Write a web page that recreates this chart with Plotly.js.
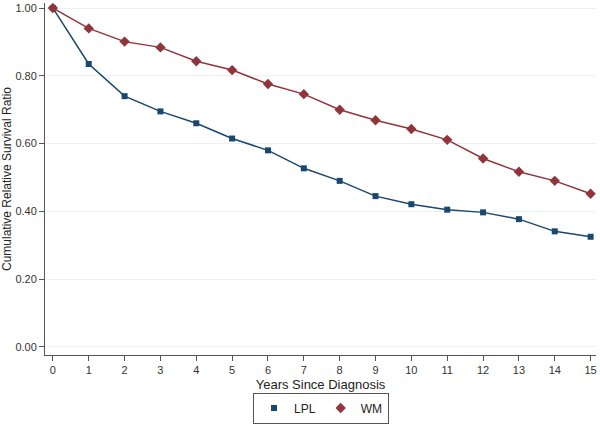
<!DOCTYPE html>
<html><head><meta charset="utf-8">
<script src="https://cdn.plot.ly/plotly-3.0.1.min.js"></script>
<style>html,body{margin:0;padding:0;background:#fff}#chart{width:600px;height:425px}</style>
</head><body><div id="chart"></div>
<script>
const years = [0,1,2,3,4,5,6,7,8,9,10,11,12,13,14,15];
const lpl = [1.00,0.835,0.740,0.695,0.660,0.615,0.580,0.527,0.490,0.445,0.421,0.405,0.397,0.377,0.341,0.325];
const wm  = [1.00,0.940,0.901,0.884,0.843,0.817,0.776,0.746,0.700,0.669,0.643,0.611,0.556,0.517,0.490,0.452];
const yTicks = [0,0.2,0.4,0.6,0.8,1.0];
const yTickText = ["0.00","0.20","0.40","0.60","0.80","1.00"];
const navy = '#1a476f', maroon = '#90353b';

const traces = [
  {x: years, y: lpl, name: 'LPL', mode: 'lines', type: 'scatter', showlegend: false,
   line: {color: navy, width: 1.5}},
  {x: years, y: wm, name: 'WM', mode: 'lines', type: 'scatter', showlegend: false,
   line: {color: maroon, width: 1.5}},
  {x: years, y: lpl, name: 'LPL', mode: 'markers', type: 'scatter',
   marker: {symbol: 'square', size: 6, color: navy}},
  {x: years, y: wm, name: 'WM', mode: 'markers', type: 'scatter',
   marker: {symbol: 'diamond', size: 8, color: maroon}}
];
const layout = {
  width: 600, height: 425,
  margin: {l: 45, r: 4, t: 3, b: 70},
  paper_bgcolor: '#fff', plot_bgcolor: '#fff',
  font: {family: 'Liberation Sans, Arial, sans-serif', size: 11, color: '#333'},
  showlegend: true,
  legend: {orientation: 'h', x: 0.535, xanchor: 'center', xref: 'container',
    y: 0.04, yanchor: 'middle', yref: 'container',
    bordercolor: '#555', borderwidth: 1, font: {size: 12, color: '#222'},
    itemwidth: 30, tracegroupgap: 0},
  xaxis: {range: [-0.22, 15.15], tickvals: years, ticks: 'outside', ticklen: 5, tickcolor: '#555',
    showline: true, linecolor: '#555', linewidth: 1, showgrid: false, zeroline: false,
    tickfont: {size: 11, color: '#333'},
    title: {text: 'Years Since Diagnosis', font: {size: 13, color: '#222'}, standoff: 8}},
  yaxis: {range: [-0.024, 1.015], tickvals: yTicks, ticktext: yTickText, ticks: 'outside', ticklen: 5,
    tickcolor: '#555', showline: true, linecolor: '#555', linewidth: 1,
    showgrid: true, gridcolor: '#eaf2f3', zeroline: false,
    tickfont: {size: 11, color: '#333'},
    title: {text: 'Cumulative Relative Survival Ratio', font: {size: 12, color: '#222'}, standoff: 4}}
};
Plotly.newPlot('chart', traces, layout, {displayModeBar: false, staticPlot: true});
</script></body></html>
